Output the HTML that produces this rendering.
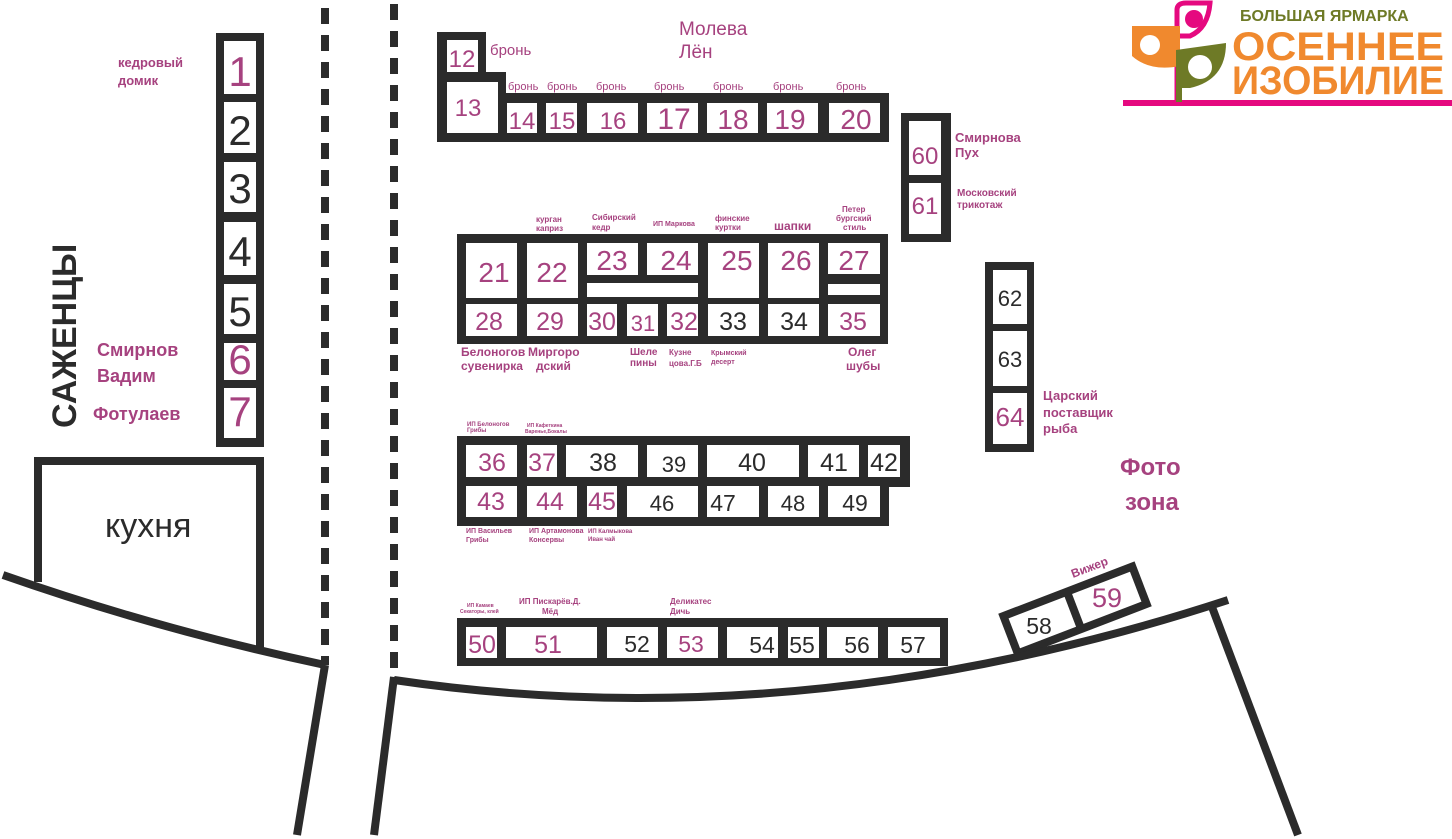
<!DOCTYPE html>
<html><head><meta charset="utf-8"><style>
html,body{margin:0;padding:0;background:#fff;}
svg{display:block;}
text{font-family:"Liberation Sans","DejaVu Sans",sans-serif;}
.n{font-size:30px;fill:#2b2b2b;text-anchor:middle;}
.p{fill:#a6427f;}
.l{font-weight:bold;fill:#a6427f;font-size:13px;}
.s{font-weight:bold;fill:#a6427f;font-size:8px;}
.t{font-size:6px;fill:#a6427f;font-weight:bold;}
</style></head><body>
<svg width="1452" height="839" viewBox="0 0 1452 839" xmlns="http://www.w3.org/2000/svg">
<g fill="#2b2b2b">
<rect x="216" y="33" width="48" height="414"/>
<rect x="437" y="32" width="49" height="45"/>
<rect x="437" y="72" width="69" height="70"/>
<rect x="500" y="93" width="389" height="49"/>
<rect x="457" y="234" width="431" height="110"/>
<rect x="457" y="436" width="453" height="51"/>
<rect x="457" y="480" width="432" height="46"/>
<rect x="457" y="618" width="491" height="48"/>
<rect x="901" y="113" width="50" height="129"/>
<rect x="985" y="262" width="49" height="190"/>
</g>
<g fill="#fff">
<rect x="224" y="41" width="32" height="53"/>
<rect x="224" y="102" width="32" height="51"/>
<rect x="224" y="162" width="32" height="50"/>
<rect x="224" y="222" width="32" height="53"/>
<rect x="224" y="284" width="32" height="50"/>
<rect x="224" y="343" width="32" height="37"/>
<rect x="224" y="388" width="32" height="50"/>

<rect x="447" y="40" width="31" height="32"/>
<rect x="447" y="82" width="51" height="51"/>
<rect x="507" y="103" width="30" height="30"/>
<rect x="546" y="103" width="31" height="30"/>
<rect x="587" y="103" width="51" height="30"/>
<rect x="647" y="103" width="51" height="30"/>
<rect x="707" y="103" width="51" height="30"/>
<rect x="767" y="103" width="51" height="30"/>
<rect x="829" y="103" width="51" height="30"/>

<rect x="466" y="243" width="51" height="55"/>
<rect x="527" y="243" width="51" height="55"/>
<rect x="587" y="243" width="51" height="32"/>
<rect x="647" y="243" width="51" height="32"/>
<rect x="587" y="283" width="111" height="14"/>
<rect x="708" y="243" width="51" height="55"/>
<rect x="768" y="243" width="51" height="55"/>
<rect x="828" y="243" width="52" height="31"/>
<rect x="828" y="284" width="52" height="11"/>
<rect x="466" y="304" width="51" height="32"/>
<rect x="527" y="304" width="51" height="32"/>
<rect x="587" y="304" width="30" height="32"/>
<rect x="627" y="304" width="31" height="32"/>
<rect x="667" y="304" width="31" height="32"/>
<rect x="708" y="304" width="51" height="32"/>
<rect x="768" y="304" width="51" height="32"/>
<rect x="828" y="304" width="52" height="32"/>

<rect x="466" y="445" width="51" height="32"/>
<rect x="527" y="445" width="30" height="32"/>
<rect x="566" y="445" width="72" height="32"/>
<rect x="647" y="445" width="51" height="32"/>
<rect x="707" y="445" width="92" height="32"/>
<rect x="808" y="445" width="51" height="32"/>
<rect x="868" y="445" width="32" height="32"/>
<rect x="466" y="486" width="51" height="31"/>
<rect x="527" y="486" width="50" height="31"/>
<rect x="587" y="486" width="30" height="31"/>
<rect x="627" y="486" width="71" height="31"/>
<rect x="707" y="486" width="52" height="31"/>
<rect x="768" y="486" width="51" height="31"/>
<rect x="828" y="486" width="52" height="31"/>

<rect x="466" y="627" width="31" height="31"/>
<rect x="506" y="627" width="91" height="31"/>
<rect x="607" y="627" width="51" height="31"/>
<rect x="667" y="627" width="51" height="31"/>
<rect x="727" y="627" width="51" height="31"/>
<rect x="788" y="627" width="31" height="31"/>
<rect x="827" y="627" width="51" height="31"/>
<rect x="888" y="627" width="52" height="31"/>

<rect x="909" y="121" width="32" height="54"/>
<rect x="909" y="183" width="32" height="51"/>
<rect x="993" y="270" width="34" height="54"/>
<rect x="993" y="331" width="34" height="55"/>
<rect x="993" y="393" width="34" height="51"/>
</g>
<g transform="translate(1075,610) rotate(-21)">
<rect x="-73" y="-24" width="146" height="48" fill="#2b2b2b"/>
<rect x="-65" y="-16" width="60" height="32" fill="#fff"/>
<rect x="3" y="-16" width="62" height="32" fill="#fff"/>
</g>
<text class="n" x="1039" y="634" style="font-size:23px">58</text>
<text class="n p" x="1107" y="607" style="font-size:27px">59</text>

<g stroke="#2b2b2b" stroke-width="8" fill="none">
<path d="M38,582 L38,461 L260,461 L260,648"/>
<path d="M3,575 Q160,630 325,665"/>
<path d="M325,665 L297,835"/>
<path d="M325,8 L325,665" stroke-dasharray="16 11"/>
<path d="M394,4 L394,677" stroke-dasharray="16 11"/>
<path d="M394,677 L374,835"/>
<path d="M394,680 Q800,740 1228,600"/>
<path d="M1212,607 L1298,835"/>
</g>

<text x="240" y="86" class="n p" style="font-size:42px">1</text>
<text x="240" y="145" class="n" style="font-size:42px">2</text>
<text x="240" y="203" class="n" style="font-size:42px">3</text>
<text x="240" y="266" class="n" style="font-size:42px">4</text>
<text x="240" y="326" class="n" style="font-size:42px">5</text>
<text x="240" y="374" class="n p" style="font-size:42px">6</text>
<text x="240" y="426" class="n p" style="font-size:42px">7</text>

<text x="462" y="67" class="n p" style="font-size:24px">12</text>
<text x="468" y="116" class="n p" style="font-size:24px">13</text>
<text x="522" y="129" class="n p" style="font-size:24px">14</text>
<text x="562" y="129" class="n p" style="font-size:24px">15</text>
<text x="613" y="129" class="n p" style="font-size:24px">16</text>
<text x="674" y="129" class="n p" style="font-size:30px">17</text>
<text x="733" y="129" class="n p" style="font-size:28px">18</text>
<text x="790" y="129" class="n p" style="font-size:28px">19</text>
<text x="856" y="129" class="n p" style="font-size:28px">20</text>

<text x="494" y="282" class="n p" style="font-size:28px">21</text>
<text x="552" y="282" class="n p" style="font-size:28px">22</text>
<text x="612" y="270" class="n p" style="font-size:28px">23</text>
<text x="676" y="270" class="n p" style="font-size:28px">24</text>
<text x="737" y="270" class="n p" style="font-size:28px">25</text>
<text x="796" y="270" class="n p" style="font-size:28px">26</text>
<text x="854" y="270" class="n p" style="font-size:28px">27</text>
<text x="489" y="330" class="n p" style="font-size:25px">28</text>
<text x="550" y="330" class="n p" style="font-size:25px">29</text>
<text x="602" y="330" class="n p" style="font-size:25px">30</text>
<text x="643" y="331" class="n p" style="font-size:22px">31</text>
<text x="684" y="330" class="n p" style="font-size:25px">32</text>
<text x="733" y="330" class="n" style="font-size:25px">33</text>
<text x="794" y="330" class="n" style="font-size:25px">34</text>
<text x="853" y="330" class="n p" style="font-size:25px">35</text>

<text x="492" y="471" class="n p" style="font-size:25px">36</text>
<text x="542" y="471" class="n p" style="font-size:25px">37</text>
<text x="603" y="471" class="n" style="font-size:25px">38</text>
<text x="674" y="472" class="n" style="font-size:22px">39</text>
<text x="752" y="471" class="n" style="font-size:25px">40</text>
<text x="834" y="471" class="n" style="font-size:25px">41</text>
<text x="884" y="471" class="n" style="font-size:25px">42</text>
<text x="491" y="510" class="n p" style="font-size:25px">43</text>
<text x="550" y="510" class="n p" style="font-size:25px">44</text>
<text x="602" y="510" class="n p" style="font-size:25px">45</text>
<text x="662" y="511" class="n" style="font-size:22px">46</text>
<text x="723" y="511" class="n" style="font-size:23px">47</text>
<text x="793" y="511" class="n" style="font-size:22px">48</text>
<text x="855" y="511" class="n" style="font-size:23px">49</text>

<text x="482" y="653" class="n p" style="font-size:25px">50</text>
<text x="548" y="653" class="n p" style="font-size:25px">51</text>
<text x="637" y="652" class="n" style="font-size:23px">52</text>
<text x="691" y="652" class="n p" style="font-size:23px">53</text>
<text x="762" y="653" class="n" style="font-size:23px">54</text>
<text x="802" y="653" class="n" style="font-size:23px">55</text>
<text x="857" y="653" class="n" style="font-size:23px">56</text>
<text x="913" y="653" class="n" style="font-size:23px">57</text>

<text x="925" y="164" class="n p" style="font-size:24px">60</text>
<text x="925" y="214" class="n p" style="font-size:24px">61</text>
<text x="1010" y="306" class="n" style="font-size:22px">62</text>
<text x="1010" y="367" class="n" style="font-size:22px">63</text>
<text x="1010" y="426" class="n p" style="font-size:26px">64</text>

<text x="118" y="67" class="l">кедровый</text>
<text x="118" y="85" class="l">домик</text>
<text x="97" y="356" class="l" style="font-size:18px">Смирнов</text>
<text x="97" y="382" class="l" style="font-size:18px">Вадим</text>
<text x="93" y="420" class="l" style="font-size:18px">Фотулаев</text>
<text transform="translate(76,428) rotate(-90)" style="font-size:34px;font-weight:bold;fill:#2b2b2b">САЖЕНЦЫ</text>
<text x="105" y="537" style="font-size:34px;fill:#2b2b2b">кухня</text>

<text x="490" y="55" class="p" style="font-size:15px">бронь</text>
<g class="p" style="font-size:11px">
<text x="508" y="90">бронь</text><text x="547" y="90">бронь</text><text x="596" y="90">бронь</text>
<text x="654" y="90">бронь</text><text x="713" y="90">бронь</text><text x="773" y="90">бронь</text><text x="836" y="90">бронь</text>
</g>
<text x="679" y="35" class="p" style="font-size:19px">Молева</text>
<text x="679" y="58" class="p" style="font-size:19px">Лён</text>

<text x="536" y="222" class="s">курган</text><text x="536" y="231" class="s">каприз</text>
<text x="592" y="220" class="s">Сибирский</text><text x="592" y="230" class="s">кедр</text>
<text x="653" y="226" class="s" style="font-size:7px">ИП Маркова</text>
<text x="715" y="221" class="s">финские</text><text x="715" y="230" class="s">куртки</text>
<text x="774" y="230" class="l" style="font-size:12px">шапки</text>
<text x="842" y="212" class="s">Петер</text><text x="836" y="221" class="s">бургский</text><text x="843" y="230" class="s">стиль</text>
<text x="461" y="356" class="l" style="font-size:12px">Белоногов</text><text x="461" y="370" class="l" style="font-size:12px">сувенирка</text>
<text x="528" y="356" class="l" style="font-size:12px">Миргоро</text><text x="536" y="370" class="l" style="font-size:12px">дский</text>
<text x="630" y="355" class="s" style="font-size:10px">Шеле</text><text x="630" y="366" class="s" style="font-size:10px">пины</text>
<text x="669" y="355" class="s">Кузне</text><text x="669" y="366" class="s">цова.Г.Б</text>
<text x="711" y="355" class="s" style="font-size:7px">Крымский</text><text x="711" y="364" class="s" style="font-size:7px">десерт</text>
<text x="848" y="356" class="l" style="font-size:12px">Олег</text><text x="846" y="370" class="l" style="font-size:12px">шубы</text>

<text x="467" y="426" class="t">ИП Белоногов</text><text x="467" y="432" class="t">Грибы</text>
<text x="527" y="427" class="t" style="font-size:5px">ИП Кафеткина</text><text x="525" y="433" class="t" style="font-size:5px">Варенье,Бокалы</text>
<text x="466" y="533" class="s" style="font-size:7px">ИП Васильев</text><text x="466" y="542" class="s" style="font-size:7px">Грибы</text>
<text x="529" y="533" class="s" style="font-size:7px">ИП Артамонова</text><text x="529" y="542" class="s" style="font-size:7px">Консервы</text>
<text x="588" y="533" class="t">ИП Калмыкова</text><text x="588" y="541" class="t">Иван чай</text>
<text x="467" y="607" class="t" style="font-size:5px">ИП Камаев</text><text x="460" y="613" class="t" style="font-size:5px">Секаторы, клей</text>
<text x="519" y="604" class="s">ИП Пискарёв.Д.</text><text x="542" y="614" class="s">Мёд</text>
<text x="670" y="604" class="s">Деликатес</text><text x="670" y="614" class="s">Дичь</text>

<text x="955" y="142" class="l">Смирнова</text><text x="955" y="157" class="l">Пух</text>
<text x="957" y="196" class="s" style="font-size:10px">Московский</text><text x="957" y="208" class="s" style="font-size:10px">трикотаж</text>
<text x="1043" y="400" class="l">Царский</text><text x="1043" y="417" class="l">поставщик</text><text x="1043" y="433" class="l">рыба</text>
<text x="1120" y="475" class="l" style="font-size:24px">Фото</text>
<text x="1125" y="510" class="l" style="font-size:24px">зона</text>
<text transform="translate(1073,578) rotate(-21)" class="l" style="font-size:12px">Вижер</text>

<rect x="1123" y="100" width="329" height="6" fill="#e5097f"/>
<path d="M1177,103 L1177,10 Q1177,3 1186,3 L1210,3 Q1208,28 1190,36 L1180,36" fill="none" stroke="#e5097f" stroke-width="5"/>
<circle cx="1194" cy="19" r="9" fill="#e5097f"/>
<path d="M1132,26 L1180,26 L1180,66 Q1150,72 1132,56 Z" fill="#f0892e"/>
<circle cx="1150" cy="45" r="10" fill="#fff"/>
<path d="M1176,50 L1226,43 Q1226,80 1190,88 L1176,88 Z" fill="#6e7a26"/>
<circle cx="1200" cy="67" r="12" fill="#fff"/>
<rect x="1176" y="50" width="6" height="52" fill="#6e7a26"/>
<text x="1240" y="21" style="font-size:16px;font-weight:bold;fill:#6e7a26">БОЛЬШАЯ ЯРМАРКА</text>
<text x="1232" y="60" style="font-size:40px;font-weight:bold;fill:#f0892e" textLength="212" lengthAdjust="spacingAndGlyphs">ОСЕННЕЕ</text>
<text x="1232" y="94" style="font-size:40px;font-weight:bold;fill:#f0892e" textLength="212" lengthAdjust="spacingAndGlyphs">ИЗОБИЛИЕ</text>
</svg>
</body></html>
